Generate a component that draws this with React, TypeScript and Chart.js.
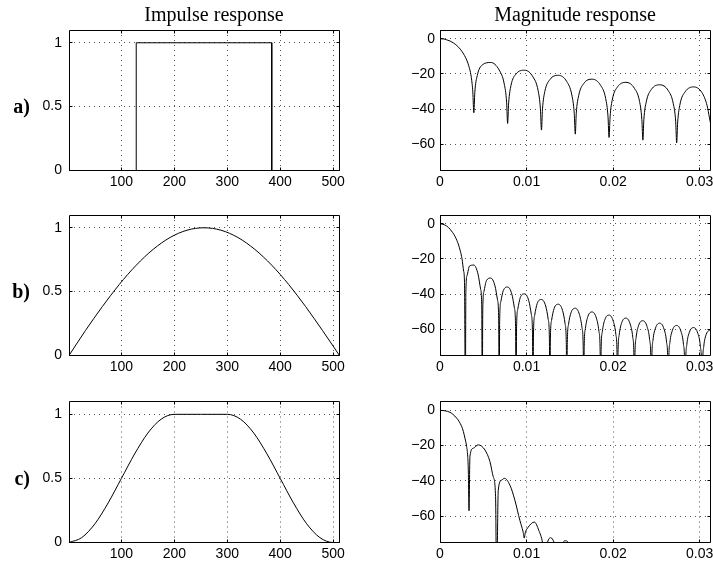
import React, { useEffect, useRef } from "react";
import { Chart, registerables } from "chart.js";
Chart.register(...registerables);

// ---------- ticks ----------
const impulseXTicks = [100, 200, 300, 400, 500];
const impulseYTicks = [0, 0.5, 1];
const freqTicks = [0, 0.01, 0.02, 0.03];
const dbTicks = [-60, -40, -20, 0];

const titles = ["Impulse response", "Magnitude response"];
const rowLabels = ["a)", "b)", "c)"];

// ---------- impulse responses ----------
const rectN = [1, 128, 128, 384, 384, 512];
const rectH = [0, 0, 1, 1, 0, 0];

const sineN = [1, 32, 64, 96, 128, 160, 192, 224, 256, 288, 320, 352, 384, 416, 448, 480, 512];
const sineH = [0, 0.195, 0.383, 0.556, 0.707, 0.831, 0.924, 0.981, 1, 0.981, 0.924, 0.831, 0.707, 0.556, 0.383, 0.195, 0];

const taperN = [1, 25, 50, 75, 100, 125, 150, 175, 200, 250, 300, 325, 350, 375, 400, 425, 450, 475, 500, 512];
const taperH = [0, 0.038, 0.146, 0.309, 0.5, 0.691, 0.854, 0.962, 1, 1, 1, 0.962, 0.854, 0.691, 0.5, 0.309, 0.146, 0.038, 0, 0];

// ---------- magnitude responses (dB) ----------
const rectF = [
  0, 0.00039, 0.00078, 0.00117, 0.00156, 0.00195, 0.00234, 0.00273, 0.00313, 0.00332, 0.00352, 0.00371, 0.00379, 0.00391,
  0.00402, 0.0043, 0.00488, 0.00586, 0.00684, 0.00742, 0.0077, 0.00781,
  0.00793, 0.0082, 0.00879, 0.00977, 0.01074, 0.01133, 0.0116, 0.01172,
  0.01184, 0.01211, 0.0127, 0.01367, 0.01465, 0.01523, 0.01551, 0.01563,
  0.01574, 0.01602, 0.0166, 0.01758, 0.01855, 0.01914, 0.01941, 0.01953,
  0.01965, 0.01992, 0.02051, 0.02148, 0.02246, 0.02305, 0.02332, 0.02344,
  0.02355, 0.02383, 0.02441, 0.02539, 0.02637, 0.02695, 0.02723, 0.02734,
  0.02746, 0.02773, 0.02832, 0.0293, 0.03027, 0.03086, 0.03113, 0.03125,
];
const rectDb = [
  0, -0.1, -0.6, -1.3, -2.4, -3.9, -5.9, -8.7, -12.6, -15.4, -19.2, -25.6, -30.2, -42.1,
  -30.7, -21.0, -14.9, -13.5, -17.8, -25.7, -36.4, -48.2,
  -36.6, -26.6, -20.0, -17.9, -21.7, -29.4, -39.9, -52.0,
  -40.1, -30.0, -23.2, -20.8, -24.4, -32.0, -42.5, -54.3,
  -42.6, -32.4, -25.5, -23.0, -26.5, -34.0, -44.4, -56.2,
  -44.5, -34.3, -27.4, -24.8, -28.2, -35.6, -46.0, -57.7,
  -46.1, -35.9, -28.9, -26.2, -29.5, -36.9, -47.3, -59.2,
  -47.4, -37.2, -30.2, -27.4, -30.7, -38.1, -45.0, -48.0,
];

const sineF = [
  0, 0.00049, 0.00098, 0.00117, 0.00146, 0.00176, 0.00195, 0.00215, 0.00234, 0.00254, 0.00273, 0.00283, 0.00293,
  0.002988, 0.003125, 0.003418, 0.003906, 0.004395, 0.004688, 0.004824, 0.004883,
  0.004941, 0.005078, 0.005371, 0.005859, 0.006348, 0.006641, 0.006777, 0.006836,
  0.006895, 0.007031, 0.007324, 0.007813, 0.008301, 0.008594, 0.00873, 0.008789,
  0.008848, 0.008984, 0.009277, 0.009766, 0.010254, 0.010547, 0.010684, 0.010742,
  0.010801, 0.010938, 0.01123, 0.011719, 0.012207, 0.0125, 0.012637, 0.012695,
  0.012754, 0.012891, 0.013184, 0.013672, 0.01416, 0.014453, 0.01459, 0.014648,
  0.014707, 0.014844, 0.015137, 0.015625, 0.016113, 0.016406, 0.016543, 0.016602,
  0.01666, 0.016797, 0.01709, 0.017578, 0.018066, 0.018359, 0.018496, 0.018555,
  0.018613, 0.01875, 0.019043, 0.019531, 0.02002, 0.020313, 0.020449, 0.020508,
  0.020566, 0.020703, 0.020996, 0.021484, 0.021973, 0.022266, 0.022402, 0.022461,
  0.02252, 0.022656, 0.022949, 0.023438, 0.023926, 0.024219, 0.024355, 0.024414,
  0.024473, 0.024609, 0.024902, 0.025391, 0.025879, 0.026172, 0.026309, 0.026367,
  0.026426, 0.026563, 0.026855, 0.027344, 0.027832, 0.028125, 0.028262, 0.02832,
  0.028379, 0.028516, 0.028809, 0.029297, 0.029785, 0.030078, 0.030215, 0.030273,
  0.030332, 0.030469, 0.030762, 0.03125,
];
const sineDb = [
  0, -0.5, -2.1, -3.1, -5.0, -7.4, -9.5, -12.1, -15.4, -19.8, -26.9, -33.5, -100,
  -39.0, -29.5, -24.0, -23.5, -28.7, -37.1, -47.9, -100,
  -48.4, -38.5, -32.3, -30.9, -35.3, -43.3, -54.0, -100,
  -54.3, -44.3, -37.9, -36.0, -40.1, -47.9, -58.5, -100,
  -58.7, -48.7, -42.0, -39.9, -43.8, -51.5, -62.0, -100,
  -62.2, -52.1, -45.4, -43.1, -46.8, -54.4, -65.0, -100,
  -65.1, -55.0, -48.2, -45.8, -49.4, -57.0, -67.5, -100,
  -67.6, -57.4, -50.6, -48.1, -51.7, -59.2, -69.7, -100,
  -69.8, -59.6, -52.7, -50.2, -53.7, -61.1, -71.6, -100,
  -71.7, -61.5, -54.6, -52.0, -55.5, -62.9, -73.4, -100,
  -73.5, -63.2, -56.3, -53.7, -57.1, -64.5, -74.9, -100,
  -75.0, -64.8, -57.8, -55.2, -58.6, -66.0, -76.4, -100,
  -76.5, -66.2, -59.3, -56.6, -59.9, -67.3, -77.7, -100,
  -77.8, -67.6, -60.6, -57.9, -61.2, -68.6, -79.0, -100,
  -79.1, -68.8, -61.8, -59.1, -62.4, -69.7, -80.1, -100,
  -80.2, -70.0, -62.9, -60.2,
];

const taperF = [
  0, 0.0006, 0.00115, 0.0015, 0.00192, 0.0022, 0.0025, 0.0027, 0.00288, 0.00308, 0.0032, 0.00327, 0.00335,
  0.00346, 0.00385, 0.00442, 0.00519, 0.00577, 0.00615, 0.00642, 0.00654,
  0.00673, 0.00712, 0.00745, 0.00808, 0.00865, 0.00923, 0.0096, 0.00973, 0.00985,
  0.01019, 0.0109, 0.01142, 0.01184, 0.0121, 0.01242, 0.0128, 0.01318, 0.0137, 0.01422, 0.0145, 0.0148, 0.0152, 0.016,
];
const taperDb = [
  0, -0.3, -1.1, -2.3, -4.4, -6.3, -9.1, -12.0, -15.8, -20.6, -26.0, -33.9, -57.0,
  -26.0, -21.5, -19.6, -22.5, -29.1, -37.7, -49.0, -100,
  -45.3, -39.6, -38.6, -42.5, -51.0, -62.5, -69.0, -72.5, -69.5,
  -66.3, -63.4, -68.2, -75.0, -85.0, -75.0, -72.3, -75.0, -85.0, -75.0, -74.0, -75.0, -90.0, -100,
];

// ---------- formatting ----------
const fmtPlain = (v: number) => String(+v.toFixed(3));
const fmtDb = (v: number) => (v < 0 ? "\u2212" + Math.abs(v) : String(v));

const TICK_FONT = { family: '"Liberation Sans", Arial, Helvetica, sans-serif', size: 14 };

type PanelProps = {
  left: number;
  top: number;
  width: number;
  height: number;
  padT: number;
  padR: number;
  axisW: number;
  axisH: number;
  xs: number[];
  ys: number[];
  xMin: number;
  xMax: number;
  yMin: number;
  yMax: number;
  xTicks: number[];
  yTicks: number[];
  xFmt: (v: number) => string;
  yFmt: (v: number) => string;
  smooth: boolean;
  yPad: number;
  title?: string;
  titleX?: number;
  rowLabel?: string;
};

function Panel(p: PanelProps) {
  const ref = useRef<HTMLCanvasElement>(null);
  useEffect(() => {
    const canvas = ref.current;
    if (!canvas) return;
    const align = (v: number) => Math.round(v - 0.5) + 0.5;
    const frame = {
      id: "frame",
      afterDraw(chart: any) {
        const { ctx, chartArea: a, scales } = chart;
        const xs = scales.x;
        const ys = scales.y;
        ctx.save();
        ctx.setLineDash([]);
        ctx.strokeStyle = "#000";
        ctx.lineWidth = 1;
        const L = align(a.left);
        const R = align(a.right);
        const T = align(a.top);
        const B = align(a.bottom);
        ctx.beginPath();
        ctx.rect(L, T, R - L, B - T);
        const tk = 3;
        p.xTicks.forEach((v) => {
          const px = align(xs.getPixelForValue(v));
          ctx.moveTo(px, B);
          ctx.lineTo(px, B - tk);
          ctx.moveTo(px, T);
          ctx.lineTo(px, T + tk);
        });
        p.yTicks.forEach((v) => {
          const py = align(ys.getPixelForValue(v));
          ctx.moveTo(L, py);
          ctx.lineTo(L + tk, py);
          ctx.moveTo(R, py);
          ctx.lineTo(R - tk, py);
        });
        ctx.stroke();
        ctx.fillStyle = "#000";
        if (p.title) {
          ctx.font = '20px "Liberation Serif", "Times New Roman", serif';
          ctx.textAlign = "center";
          ctx.textBaseline = "alphabetic";
          ctx.fillText(p.title, p.titleX ?? 0, 20.7);
        }
        if (p.rowLabel) {
          ctx.font = 'bold 20px "Liberation Serif", "Times New Roman", serif';
          ctx.textAlign = "right";
          ctx.textBaseline = "alphabetic";
          ctx.fillText(p.rowLabel, 30, ys.getPixelForValue(0.5) + 6.5);
        }
        ctx.restore();
      },
    };

    const chart = new Chart(canvas, {
      type: "line",
      data: {
        datasets: [
          {
            data: p.xs.map((x, i) => ({ x, y: p.ys[i] })),
            borderColor: "#000",
            borderWidth: 1,
            pointRadius: 0,
            fill: false,
            tension: 0,
            cubicInterpolationMode: p.smooth ? "monotone" : "default",
          },
        ],
      },
      options: {
        responsive: false,
        animation: false,
        devicePixelRatio: 1,
        events: [],
        layout: { padding: { left: 0, top: p.padT, right: p.padR, bottom: 0 } },
        plugins: { legend: { display: false }, tooltip: { enabled: false } },
        scales: {
          x: {
            type: "linear",
            min: p.xMin,
            max: p.xMax,
            afterBuildTicks: (s: any) => {
              s.ticks = p.xTicks.map((v) => ({ value: v }));
            },
            afterFit: (s: any) => {
              s.height = p.axisH;
              s.paddingLeft = 0;
              s.paddingRight = 0;
            },
            grid: { color: "#555", lineWidth: 1, drawTicks: false },
            border: { display: false, dash: [1, 4] },
            ticks: {
              color: "#000",
              font: TICK_FONT,
              padding: 3,
              maxRotation: 0,
              autoSkip: false,
              callback: (v: any) => p.xFmt(Number(v)),
            },
          },
          y: {
            type: "linear",
            min: p.yMin,
            max: p.yMax,
            afterBuildTicks: (s: any) => {
              s.ticks = p.yTicks.map((v) => ({ value: v }));
            },
            afterFit: (s: any) => {
              s.width = p.axisW;
              s.paddingTop = 0;
              s.paddingBottom = 0;
            },
            grid: { color: "#555", lineWidth: 1, drawTicks: false },
            border: { display: false, dash: [1, 4] },
            ticks: {
              color: "#000",
              font: TICK_FONT,
              padding: p.yPad,
              autoSkip: false,
              callback: (v: any) => p.yFmt(Number(v)),
            },
          },
        },
      } as any,
      plugins: [frame],
    } as any);
    return () => chart.destroy();
  }, []);
  return (
    <canvas
      ref={ref}
      width={p.width}
      height={p.height}
      style={{ position: "absolute", left: p.left, top: p.top, width: p.width, height: p.height }}
    />
  );
}

const rowsLayout = [
  { top: 0, height: 195, padT: 30 },
  { top: 195, height: 185, padT: 20 },
  { top: 380, height: 187, padT: 21.5 },
];

const impulseData = [
  { n: rectN, h: rectH, smooth: false },
  { n: sineN, h: sineH, smooth: true },
  { n: taperN, h: taperH, smooth: true },
];
const magData = [
  { f: rectF, db: rectDb },
  { f: sineF, db: sineDb },
  { f: taperF, db: taperDb },
];

export default function App() {
  return (
    <div
      style={{
        position: "absolute",
        left: 0,
        top: 0,
        width: 713,
        height: 567,
        background: "#fff",
        overflow: "hidden",
      }}
    >
      {rowsLayout.map((r, i) => (
        <React.Fragment key={i}>
          <Panel
            left={0}
            top={r.top}
            width={356}
            height={r.height}
            padT={r.padT}
            padR={16.5}
            axisW={69}
            axisH={24.5}
            xs={impulseData[i].n}
            ys={impulseData[i].h}
            xMin={1}
            xMax={512}
            yMin={0}
            yMax={1.1}
            xTicks={impulseXTicks}
            yTicks={impulseYTicks}
            xFmt={fmtPlain}
            yFmt={fmtPlain}
            smooth={impulseData[i].smooth}
            yPad={7}
            title={i === 0 ? titles[0] : undefined}
            titleX={214}
            rowLabel={rowLabels[i]}
          />
          <Panel
            left={360}
            top={r.top}
            width={353}
            height={r.height}
            padT={r.padT}
            padR={2.5}
            axisW={80}
            axisH={24.5}
            xs={magData[i].f}
            ys={magData[i].db}
            xMin={0}
            xMax={0.03125}
            yMin={-75}
            yMax={5}
            xTicks={freqTicks}
            yTicks={dbTicks}
            xFmt={fmtPlain}
            yFmt={fmtDb}
            smooth={true}
            yPad={5}
            title={i === 0 ? titles[1] : undefined}
            titleX={215}
          />
        </React.Fragment>
      ))}
    </div>
  );
}
